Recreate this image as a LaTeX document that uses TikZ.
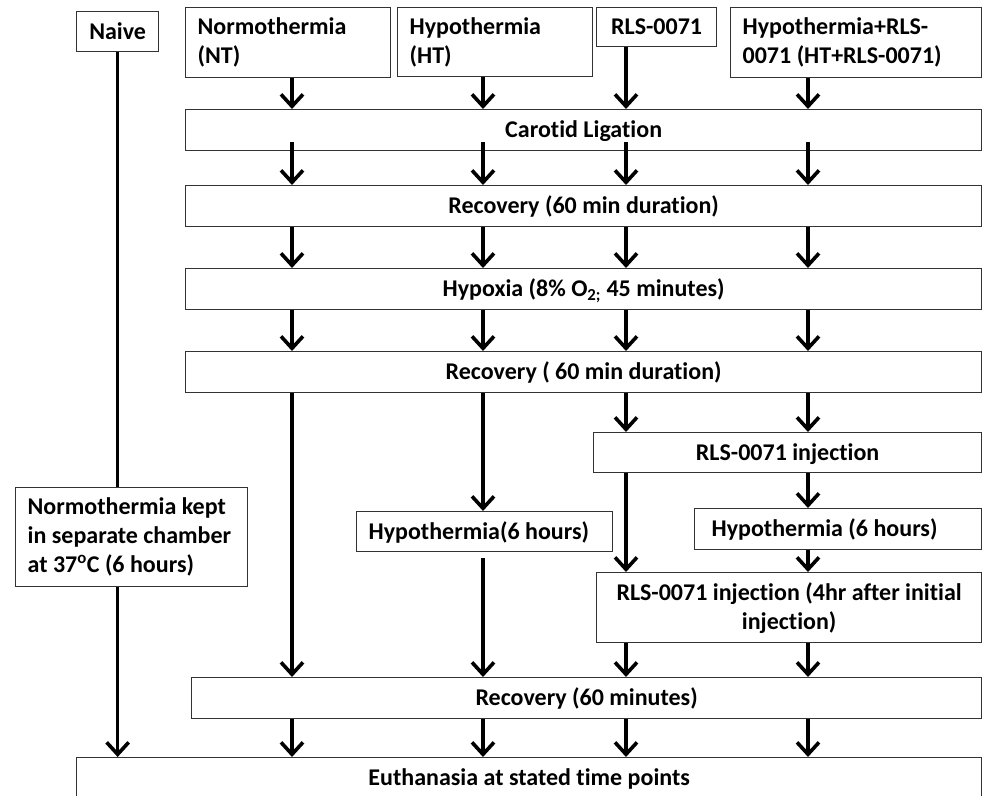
\documentclass[tikz,border=0pt]{standalone}
\usepackage{fontspec}
\setmainfont{Carlito}[Ligatures=NoCommon]
\usetikzlibrary{arrows.meta}
\begin{document}
\begin{tikzpicture}[x=1pt,y=-1pt,
  box/.style={draw=black!80, line width=1.3pt, inner sep=0pt, anchor=north west,
    font=\fontsize{24}{29}\selectfont\bfseries},
  one/.style={text height=15.5pt, text depth=0pt},
  arr/.style={line width=3.6pt, -{Straight Barb[length=12pt,width=22pt]}},
  ln/.style={line width=3.6pt}]
\useasboundingbox (0,0) rectangle (985,795);
\clip (0,0) rectangle (985,795);
\fill[white] (0,0) rectangle (985,795);
% top row
\node[box, one, minimum width=82pt, minimum height=40pt] (naive) at (76,11) {Naive};
\node[box, minimum width=205pt, minimum height=70pt, inner xsep=12pt, text width=181pt, align=flush left] (nt) at (185,7) {Normothermia\\(NT)};
\node[box, minimum width=195pt, minimum height=69pt, inner xsep=12pt, text width=171pt, align=flush left] (ht) at (397,7) {Hypothermia\\(HT)};
\node[box, one, minimum width=120pt, minimum height=39pt] (rls) at (596,7) {RLS-0071};
\node[box, minimum width=251pt, minimum height=70pt, inner xsep=12pt, text width=227pt, align=flush left] (htrls) at (730,7) {Hypothermia+RLS-\\0071 (HT+RLS-0071)};
% wide steps
\node[box, one, minimum width=796pt, minimum height=41pt] (car) at (185,109) {Carotid Ligation};
\node[box, one, minimum width=796pt, minimum height=41pt] (rec1) at (185,185) {Recovery (60 min duration)};
\node[box, one, minimum width=796pt, minimum height=41pt] (hyp) at (185,268) {Hypoxia (8\% O\textsubscript{2;} 45 minutes)};
\node[box, one, minimum width=796pt, minimum height=41pt] (rec2) at (185,351) {Recovery ( 60 min duration)};
% branches
\node[box, minimum width=232pt, minimum height=99pt, inner xsep=12pt, text width=208pt, align=flush left] (nk) at (15,487) {Normothermia kept\\in separate chamber\\at 37\textsuperscript{o}C (6 hours)};
\node[box, one, minimum width=256pt, minimum height=40pt, inner xsep=12pt, text width=232pt, align=flush left] (hta) at (356,511) {Hypothermia(6 hours)};
\node[box, one, minimum width=388pt, minimum height=40pt] (inj) at (593,432) {RLS-0071 injection};
\node[box, one, minimum width=287pt, minimum height=41pt, inner xsep=17pt, text width=253pt, align=flush left] (htb) at (694,508) {Hypothermia (6 hours)};
\node[box, minimum width=385pt, minimum height=70pt, inner xsep=12pt, text width=361pt, align=flush center] (inj2) at (596,572) {RLS-0071 injection (4hr after initial\\injection)};
\node[box, one, minimum width=790pt, minimum height=41pt] (rec3) at (191,677) {Recovery (60 minutes)};
\node[box, one, minimum width=905pt, minimum height=41pt] (eu) at (76,757) {Euthanasia at stated time points};
% columns
\coordinate (c1) at (292,0);
\coordinate (c2) at (483,0);
\coordinate (c3) at (626,0);
\coordinate (c4) at (808,0);
% arrows
\draw[arr] (c1 |- nt.south) -- (c1 |- car.north);
\draw[arr] (c2 |- ht.south) -- (c2 |- car.north);
\draw[arr] (c3 |- rls.south) -- (c3 |- car.north);
\draw[arr] (c4 |- htrls.south) -- (c4 |- car.north);
\foreach \c in {c1,c2,c3,c4}{
  \draw[arr, shorten <=-9pt] (\c |- car.south) -- (\c |- rec1.north);
  \draw[arr] (\c |- rec1.south) -- (\c |- hyp.north);
  \draw[arr] (\c |- hyp.south) -- (\c |- rec2.north);
  \draw[arr] (\c |- rec3.south) -- (\c |- eu.north);
}
\draw[arr] (c1 |- rec2.south) -- (c1 |- rec3.north);
\draw[arr] (c2 |- rec2.south) -- (c2 |- hta.north);
\draw[arr, shorten <=6pt] (c2 |- hta.south) -- (c2 |- rec3.north);
\draw[arr] (c3 |- rec2.south) -- (c3 |- inj.north);
\draw[arr] (c4 |- rec2.south) -- (c4 |- inj.north);
\draw[arr] (c3 |- inj.south) -- (c3 |- inj2.north);
\draw[arr] (c4 |- inj.south) -- (c4 |- htb.north);
\draw[arr] (c4 |- htb.south) -- (c4 |- inj2.north);
\draw[arr] (c3 |- inj2.south) -- (c3 |- rec3.north);
\draw[arr] (c4 |- inj2.south) -- (c4 |- rec3.north);
\draw[ln] (naive.south) -- (naive.south |- nk.north);
\draw[arr] (naive.south |- nk.south) -- (naive.south |- eu.north);
\end{tikzpicture}
\end{document}
